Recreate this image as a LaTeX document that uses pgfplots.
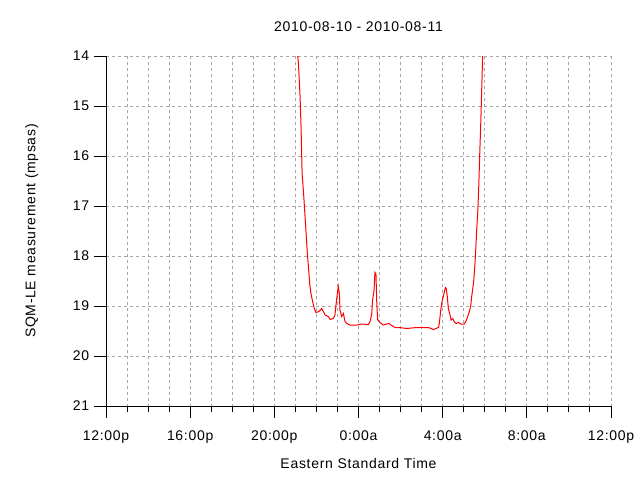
\documentclass[border=0pt]{standalone}
\usepackage{pgfplots}
\pgfplotsset{compat=1.18}
\usepackage{fontspec}
\setmainfont{Liberation Sans}[LetterSpace=5]
\begin{document}
\fontsize{14bp}{16bp}\selectfont
\begin{tikzpicture}
\useasboundingbox (0,0) rectangle (640bp,480bp);
\begin{axis}[
  at={(106bp,74bp)}, anchor=south west,
  scale only axis, width=505bp, height=350bp,
  xmin=12, xmax=36, ymin=14, ymax=21, y dir=reverse,
  axis x line*=bottom, axis y line*=left,
  axis line style={black, line width=1bp, -},
  tick align=outside,
  major tick length=12bp, minor tick length=6bp,
  every tick/.style={black, line width=1bp},
  xtick={12,16,20,24,28,32,36},
  xticklabels={12:00p,16:00p,20:00p,0:00a,4:00a,8:00a,12:00p},
  minor x tick num=3,
  ytick={14,15,16,17,18,19,20,21},
  xmajorgrids, xminorgrids, ymajorgrids,
  grid style={gray!70, dash pattern=on 2.5bp off 3.5bp, line width=1bp},
  /pgf/number format/assume math mode=true,
  ticklabel style={font=\fontsize{14bp}{16bp}\selectfont},
  label style={font=\fontsize{14bp}{16bp}\selectfont},
  title style={font=\fontsize{14bp}{16bp}\selectfont, yshift=14bp},
  xticklabel shift=8bp,
  xlabel shift=5bp,
  ylabel shift=25bp,
  xlabel={Eastern Standard Time},
  ylabel={SQM-LE measurement (mpsas)},
  title={2010-08-10 - 2010-08-11},
  clip=true,
]
\addplot[red, line width=1bp] coordinates {
(21.10,13.90) (21.11,14.00) (21.14,14.11) (21.22,14.78) (21.27,15.41) (21.32,16.35)
(21.40,16.81) (21.47,17.28) (21.52,17.61) (21.57,17.95) (21.62,18.21)
(21.68,18.55) (21.74,18.75) (21.82,18.91) (21.90,19.05) (21.98,19.13)
(22.12,19.11) (22.25,19.05) (22.33,19.11) (22.41,19.18) (22.57,19.21)
(22.65,19.27) (22.80,19.25) (22.88,19.18) (22.96,18.87) (23.04,18.61)
(23.09,18.75) (23.12,19.08) (23.20,19.21) (23.28,19.15) (23.36,19.31)
(23.44,19.35) (23.60,19.38) (23.92,19.38) (24.15,19.36) (24.47,19.37)
(24.55,19.31) (24.63,19.15) (24.67,18.88) (24.74,18.68) (24.78,18.33)
(24.83,18.36) (24.87,18.95) (24.91,19.27) (25.02,19.33) (25.18,19.38)
(25.34,19.36) (25.45,19.35) (25.58,19.39) (25.74,19.43) (25.94,19.43)
(26.29,19.45) (26.76,19.43) (27.32,19.43) (27.56,19.47) (27.80,19.43)
(27.84,19.35) (27.91,19.08) (27.97,18.91) (28.03,18.81) (28.10,18.68)
(28.13,18.63) (28.17,18.65) (28.22,18.81) (28.27,19.05) (28.35,19.18)
(28.40,19.28) (28.48,19.25) (28.54,19.31) (28.64,19.35) (28.74,19.33)
(28.86,19.36) (29.02,19.36) (29.10,19.31) (29.19,19.21) (29.27,19.11)
(29.33,19.01) (29.38,18.81) (29.43,18.65) (29.48,18.48) (29.53,18.18)
(29.58,17.81) (29.62,17.45) (29.67,17.11) (29.72,16.55) (29.76,15.98)
(29.81,15.35) (29.86,14.61) (29.90,14.00) (29.92,13.90)
};
\end{axis}
\end{tikzpicture}
\end{document}
